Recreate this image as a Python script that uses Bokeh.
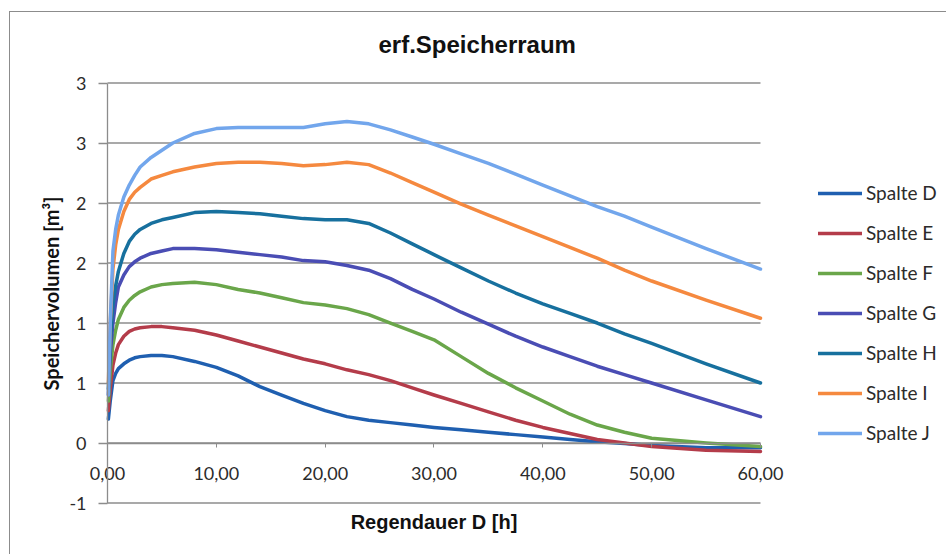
from bokeh.plotting import figure
from bokeh.models import Range1d, Legend, LegendItem, FixedTicker
from bokeh.embed import file_html
from bokeh.resources import INLINE

# Regendauer D [h]
duration_h = [0.08, 0.25, 0.5, 0.75, 1, 1.5, 2, 2.5, 3, 4, 5, 6, 8, 10, 12, 14, 16, 18,
              20, 22, 24, 26, 28, 30, 32.5, 35, 37.5, 40, 42.5, 45, 47.5, 50, 55, 60]

# erforderliches Speichervolumen [m³] je Spalte
spalte_d = [0.20, 0.35, 0.52, 0.58, 0.62, 0.66, 0.69, 0.71, 0.72, 0.73, 0.73, 0.72, 0.68, 0.63,
            0.56, 0.47, 0.40, 0.33, 0.27, 0.22, 0.19, 0.17, 0.15, 0.13, 0.11, 0.09, 0.07, 0.05,
            0.03, 0.01, -0.005, -0.02, -0.04, -0.04]
spalte_e = [0.27, 0.45, 0.65, 0.75, 0.82, 0.89, 0.93, 0.95, 0.96, 0.97, 0.97, 0.96, 0.94, 0.90,
            0.85, 0.80, 0.75, 0.70, 0.66, 0.61, 0.57, 0.52, 0.46, 0.40, 0.33, 0.26, 0.19, 0.13,
            0.08, 0.03, 0.00, -0.03, -0.06, -0.07]
spalte_f = [0.35, 0.60, 0.82, 0.94, 1.03, 1.13, 1.19, 1.23, 1.26, 1.30, 1.32, 1.33, 1.34, 1.32,
            1.28, 1.25, 1.21, 1.17, 1.15, 1.12, 1.07, 1.00, 0.93, 0.86, 0.72, 0.58, 0.46, 0.35,
            0.24, 0.15, 0.09, 0.04, 0.00, -0.03]
spalte_g = [0.40, 0.75, 1.00, 1.17, 1.30, 1.40, 1.47, 1.51, 1.54, 1.58, 1.60, 1.62, 1.62, 1.61,
            1.59, 1.57, 1.55, 1.52, 1.51, 1.48, 1.44, 1.37, 1.28, 1.20, 1.09, 0.99, 0.89, 0.80,
            0.72, 0.64, 0.57, 0.50, 0.36, 0.22]
spalte_h = [0.45, 0.85, 1.15, 1.31, 1.43, 1.58, 1.68, 1.74, 1.78, 1.83, 1.86, 1.88, 1.92, 1.93,
            1.92, 1.91, 1.89, 1.87, 1.86, 1.86, 1.83, 1.75, 1.66, 1.57, 1.46, 1.35, 1.25, 1.16,
            1.08, 1.00, 0.91, 0.83, 0.66, 0.50]
spalte_i = [0.50, 1.00, 1.45, 1.65, 1.78, 1.93, 2.03, 2.09, 2.13, 2.20, 2.23, 2.26, 2.30, 2.33,
            2.34, 2.34, 2.33, 2.31, 2.32, 2.34, 2.32, 2.25, 2.17, 2.09, 1.99, 1.90, 1.81, 1.72,
            1.63, 1.54, 1.44, 1.35, 1.19, 1.04]
spalte_j = [0.40, 1.00, 1.60, 1.78, 1.90, 2.05, 2.15, 2.23, 2.30, 2.38, 2.44, 2.50, 2.58, 2.62,
            2.63, 2.63, 2.63, 2.63, 2.66, 2.68, 2.66, 2.61, 2.55, 2.49, 2.41, 2.33, 2.24, 2.15,
            2.06, 1.97, 1.89, 1.80, 1.62, 1.45]

series_names = ["Spalte D", "Spalte E", "Spalte F", "Spalte G", "Spalte H", "Spalte I", "Spalte J"]
series_values = [spalte_d, spalte_e, spalte_f, spalte_g, spalte_h, spalte_i, spalte_j]
series_colors = ["#1f5fb0", "#b43c4a", "#6aa64a", "#4a4db4", "#17709e", "#f5893f", "#72a6ec"]

x_ticks = [0, 10, 20, 30, 40, 50, 60]
x_tick_labels = ["0,00", "10,00", "20,00", "30,00", "40,00", "50,00", "60,00"]
y_ticks = [-0.5, 0.0, 0.5, 1.0, 1.5, 2.0, 2.5, 3.0]
y_tick_labels = ["-1", "0", "1", "1", "2", "2", "3", "3"]

GRID = "#8c8c8c"
TEXT = "#2b2b2b"

# The frame covers the whole chart area; both axes cross at the origin,
# so the visible ranges reach a little beyond the data region.
X_VIEW = (-7.26, 77.0)
Y_VIEW = (-0.854, 3.121)

p = figure(width=937, height=543, output_backend="svg", toolbar_location=None,
           x_range=Range1d(*X_VIEW), y_range=Range1d(*Y_VIEW),
           min_border_left=18, min_border_right=2, min_border_top=56, min_border_bottom=10,
           background_fill_color="white", border_fill_color="white",
           margin=(11, 0, 0, 9))
p.styles = {"border-left": "1px solid #8c8c8c", "border-top": "1px solid #8c8c8c"}
p.outline_line_color = None

# title
p.title.text = "erf.Speicherraum"
p.title.align = "left"
p.title.offset = 350
p.title.text_font = "Liberation Sans"
p.title.text_font_size = "24px"
p.title.text_font_style = "bold"
p.title.text_color = "#111111"
p.title.standoff = 22

# x axis crossing at y = 0
xa = p.xaxis[0]
xa.fixed_location = 0
xa.bounds = (x_ticks[0], x_ticks[-1])
xa.ticker = FixedTicker(ticks=x_ticks)
xa.major_label_overrides = {t: lab for t, lab in zip(x_ticks, x_tick_labels)}
xa.axis_line_color = GRID
xa.axis_line_width = 1.3
xa.major_tick_line_color = GRID
xa.major_tick_in = 0
xa.major_tick_out = 4
xa.minor_tick_line_color = None
xa.major_label_standoff = 20
xa.major_label_text_font = "Lato"
xa.major_label_text_font_size = "18px"
xa.major_label_text_color = TEXT
xa.axis_label = "Regendauer D [h]"
xa.axis_label_standoff = 27
xa.axis_label_text_font = "Liberation Sans"
xa.axis_label_text_font_size = "20px"
xa.axis_label_text_font_style = "bold"
xa.axis_label_text_color = "#111111"

# y axis crossing at x = 0
ya = p.yaxis[0]
ya.fixed_location = 0
ya.bounds = (y_ticks[0], y_ticks[-1])
ya.ticker = FixedTicker(ticks=y_ticks)
ya.major_label_overrides = {t: lab for t, lab in zip(y_ticks, y_tick_labels)}
ya.axis_line_color = GRID
ya.axis_line_width = 1.3
ya.major_tick_line_color = GRID
ya.major_tick_line_width = 1.3
ya.major_tick_in = 0
ya.major_tick_out = 9
ya.minor_tick_line_color = None
ya.major_label_standoff = 12
ya.major_label_text_font = "Lato"
ya.major_label_text_font_size = "18px"
ya.major_label_text_color = TEXT
ya.axis_label = "Speichervolumen [m³]"
ya.axis_label_standoff = 3
ya.axis_label_text_font = "Lato"
ya.axis_label_text_font_size = "20px"
ya.axis_label_text_font_style = "bold"
ya.axis_label_text_color = "#111111"

p.xgrid.visible = False
p.ygrid.visible = False

# horizontal grid lines over the data region only
p.segment(x0=[x_ticks[0]] * len(y_ticks), y0=y_ticks,
          x1=[x_ticks[-1]] * len(y_ticks), y1=y_ticks,
          line_color=GRID, line_width=1.3)

items = []
for name, vals, col in zip(series_names, series_values, series_colors):
    r = p.line(duration_h, vals, line_color=col, line_width=3.5, line_join="round", line_cap="round")
    items.append(LegendItem(label=name, renderers=[r]))

legend = Legend(items=items, location=(790, 101), margin=0, padding=0,
                border_line_color=None, background_fill_alpha=0,
                glyph_width=44, glyph_height=22, label_height=22, spacing=17,
                label_standoff=4, label_text_font="Lato", label_text_font_size="19px",
                label_text_color=TEXT)
p.add_layout(legend, "center")

open("out.html", "w").write(file_html(p, INLINE))
